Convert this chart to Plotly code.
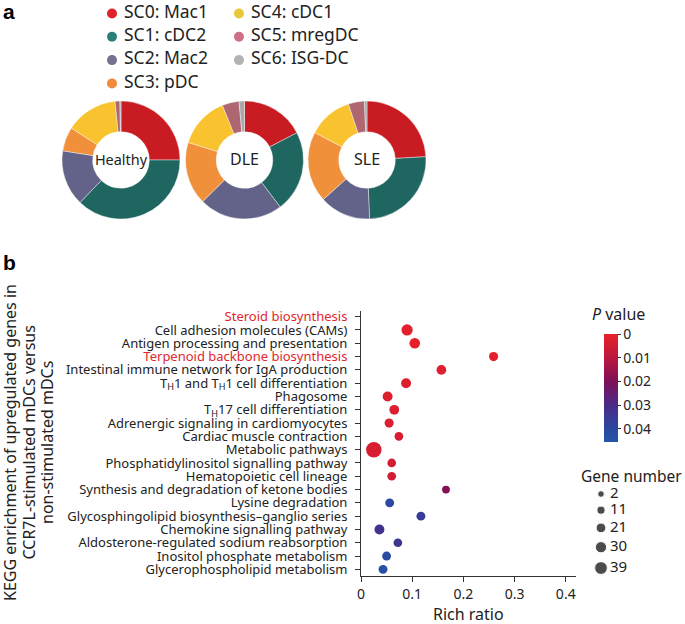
import plotly.graph_objects as go

W, H = 685, 624
FONT = "Noto Sans"
TXT = "#222222"
AX = "#333333"

# ---------------- Panel a data ----------------
clusters = ["SC0: Mac1", "SC1: cDC2", "SC2: Mac2", "SC3: pDC",
            "SC4: cDC1", "SC5: mregDC", "SC6: ISG-DC"]
conditions = ["Healthy", "DLE", "SLE"]
healthy_pct = [25.0, 37.2, 15.3, 6.6, 14.3, 1.3, 0.3]
dle_pct = [17.4, 22.3, 22.9, 17.3, 14.1, 4.6, 1.5]
sle_pct = [24.1, 25.2, 14.0, 19.4, 12.2, 4.4, 0.7]

# ---------------- Panel b data ----------------
pathways = [
    "Steroid biosynthesis",
    "Cell adhesion molecules (CAMs)",
    "Antigen processing and presentation",
    "Terpenoid backbone biosynthesis",
    "Intestinal immune network for IgA production",
    "T<sub>H</sub>1 and T<sub>H</sub>1 cell differentiation",
    "Phagosome",
    "T<sub>H</sub>17 cell differentiation",
    "Adrenergic signaling in cardiomyocytes",
    "Cardiac muscle contraction",
    "Metabolic pathways",
    "Phosphatidylinositol signalling pathway",
    "Hematopoietic cell lineage",
    "Synthesis and degradation of ketone bodies",
    "Lysine degradation",
    "Glycosphingolipid biosynthesis\u2013ganglio series",
    "Chemokine signalling pathway",
    "Aldosterone-regulated sodium reabsorption",
    "Inositol phosphate metabolism",
    "Glycerophospholipid metabolism",
]
rich_ratio = [0.422, 0.090, 0.105, 0.259, 0.157, 0.088, 0.052, 0.065, 0.055, 0.074,
              0.025, 0.060, 0.060, 0.166, 0.056, 0.117, 0.036, 0.072, 0.050, 0.043]
gene_number = [10, 19, 16, 9, 12, 13, 13, 12, 9, 7,
               39, 7, 7, 3, 8, 8, 13, 7, 8, 8]
p_value = [0.0005, 0.0008, 0.001, 0.001, 0.002, 0.002, 0.003, 0.003, 0.003, 0.004,
           0.004, 0.005, 0.005, 0.019, 0.040, 0.036, 0.032, 0.034, 0.041, 0.043]
highlighted = ["Steroid biosynthesis", "Terpenoid backbone biosynthesis"]
gene_legend = [2, 11, 21, 30, 39]
pvalue_ticks = [0, 0.01, 0.02, 0.03, 0.04]
x_ticks = [0, 0.1, 0.2, 0.3, 0.4]
y_title_lines = ["KEGG enrichment of upregulated genes in",
                 "CCR7L-stimulated mDCs versus",
                 "non-stimulated mDCs"]

# ---------------- styles ----------------
pie_colors = ["#c81b22", "#1f6660", "#63638a", "#f0903b", "#f8c32f", "#ae6670", "#a9a9a9"]
legend_colors = ["#e0222b", "#2a8078", "#75718f", "#f08a3c", "#e6c83a", "#cf6f86", "#b2b2b2"]
HIGHLIGHT = "#e2262d"
P_MAX = 0.0455
colorscale = [[0.0, "#2456a8"], [0.12, "#2c48a0"], [0.34, "#4a2b88"],
              [0.56, "#7d0f58"], [0.78, "#bb183f"], [1.0, "#e8212a"]]


def px_x(p):
    return p / W


def px_y(p):
    return 1 - p / H


def data_size(g):
    return 7.2 + 0.213 * g


def legend_size(g):
    return 6.3 + 0.165 * g


fig = go.Figure()

# ---------------- donuts ----------------
pie_cx = [121, 244.5, 367]
pie_cy = 160
pie_r = 59
for cond, vals, cx in zip(conditions, [healthy_pct, dle_pct, sle_pct], pie_cx):
    fig.add_trace(go.Pie(
        values=vals, labels=clusters, hole=0.48, sort=False,
        direction="clockwise", rotation=0,
        marker=dict(colors=pie_colors, line=dict(color="white", width=0.4)),
        textinfo="none", showlegend=False,
        domain=dict(x=[px_x(cx - pie_r), px_x(cx + pie_r)],
                    y=[px_y(pie_cy + pie_r), px_y(pie_cy - pie_r)]),
        title=dict(text=cond, font=dict(size=16, color=TXT, family=FONT),
                   position="middle center"),
    ))

# ---------------- overlay axes (pixel space) for legends ----------------
LEG_X0, LEG_DX, LEG_Y0, LEG_DY, LEG_TX = 112, 127, 13.5, 23.3, 12
leg_x = [LEG_X0 + (i // 4) * LEG_DX for i in range(len(clusters))]
leg_y = [LEG_Y0 + (i % 4) * LEG_DY for i in range(len(clusters))]
fig.add_trace(go.Scatter(
    x=leg_x, y=leg_y, mode="markers",
    marker=dict(size=10, color=legend_colors),
    xaxis="x3", yaxis="y3", showlegend=False, hoverinfo="skip", cliponaxis=False,
))
fig.add_trace(go.Scatter(
    x=[v + LEG_TX for v in leg_x], y=leg_y, mode="text", text=clusters,
    textposition="middle right",
    textfont=dict(size=17.5, color=TXT, family=FONT),
    xaxis="x3", yaxis="y3", showlegend=False, hoverinfo="skip", cliponaxis=False,
))

# gene-number legend positions from sizes
GX, GY0, GGAP = 601, 494, 8.8
gy = []
prev = None
for g in gene_legend:
    d = legend_size(g)
    if prev is None:
        gy.append(GY0)
    else:
        gy.append(gy[-1] + prev / 2 + d / 2 + GGAP)
    prev = d
fig.add_trace(go.Scatter(
    x=[GX] * len(gene_legend), y=gy, mode="markers",
    marker=dict(size=[legend_size(g) for g in gene_legend], color="black"),
    xaxis="x3", yaxis="y3", showlegend=False, hoverinfo="skip", cliponaxis=False,
))
fig.add_trace(go.Scatter(
    x=[GX + 9] * len(gene_legend), y=gy, mode="text",
    text=[str(g) for g in gene_legend], textposition="middle right",
    textfont=dict(size=15, color=TXT, family=FONT),
    xaxis="x3", yaxis="y3", showlegend=False, hoverinfo="skip", cliponaxis=False,
))

# ---------------- bubble chart ----------------
n = len(pathways)
ypos = [n - 1 - i for i in range(n)]
ticktext = [
    f'<span style="color:{HIGHLIGHT}">{p}</span>' if p in highlighted else p
    for p in pathways
]
fig.add_trace(go.Scatter(
    x=rich_ratio, y=ypos, mode="markers",
    marker=dict(
        size=[data_size(g) for g in gene_number],
        color=[-p for p in p_value], cmin=-P_MAX, cmax=0,
        colorscale=colorscale, line=dict(width=0), opacity=1,
        colorbar=dict(
            thickness=14, thicknessmode="pixels", len=108, lenmode="pixels",
            x=px_x(604), xanchor="left", y=px_y(442), yanchor="bottom",
            xpad=0, ypad=0, outlinewidth=0,
            tickvals=[-v for v in pvalue_ticks],
            ticktext=[f"{v:g}" for v in pvalue_ticks],
            ticks="outside", ticklen=3, tickcolor=AX,
            tickfont=dict(size=14, color=TXT, family=FONT),
        ),
    ),
    xaxis="x", yaxis="y", showlegend=False, cliponaxis=False,
))

annotations = [
    dict(text="<b>a</b>", x=px_x(1), y=px_y(-2), xref="paper", yref="paper",
         xanchor="left", yanchor="top", showarrow=False,
         font=dict(size=21, family="Liberation Sans", color="black")),
    dict(text="<b>b</b>", x=px_x(1), y=px_y(249), xref="paper", yref="paper",
         xanchor="left", yanchor="top", showarrow=False,
         font=dict(size=21, family="Liberation Sans", color="black")),
    dict(text="Rich ratio", x=px_x(468.5), y=px_y(614), xref="paper", yref="paper",
         xanchor="center", yanchor="middle", showarrow=False,
         font=dict(size=16, color=TXT, family=FONT)),
    dict(text="<i>P</i> value", x=px_x(590), y=px_y(314), xref="paper", yref="paper",
         xanchor="left", yanchor="middle", showarrow=False,
         font=dict(size=16, color=TXT, family=FONT)),
    dict(text="Gene number", x=px_x(579), y=px_y(476), xref="paper", yref="paper",
         xanchor="left", yanchor="middle", showarrow=False,
         font=dict(size=15.5, color=TXT, family=FONT)),
]
for k, line in enumerate(y_title_lines):
    annotations.append(dict(
        text=line, x=px_x(10 + 18.5 * k), y=px_y(443), xref="paper", yref="paper",
        xanchor="center", yanchor="middle", textangle=-90, showarrow=False,
        font=dict(size=16, color=TXT, family=FONT)))

fig.update_layout(
    width=W, height=H,
    margin=dict(l=0, r=0, t=0, b=0),
    paper_bgcolor="white", plot_bgcolor="rgba(0,0,0,0)",
    font=dict(family=FONT, color=TXT),
    showlegend=False,
    xaxis=dict(
        domain=[px_x(361), px_x(576)], range=[0, 0.42], anchor="y",
        tickvals=x_ticks, ticktext=[f"{v:g}" for v in x_ticks],
        ticks="outside", ticklen=5, tickcolor=AX, showline=True, linecolor=AX,
        linewidth=1, showgrid=False, zeroline=False, automargin=False,
        tickfont=dict(size=14, color=TXT, family=FONT), ticklabelstandoff=0,
    ),
    yaxis=dict(
        domain=[px_y(576), px_y(310.7)], range=[-0.5, 19.45], anchor="x",
        tickvals=ypos, ticktext=ticktext,
        ticks="outside", ticklen=5, tickcolor=AX, showline=True, linecolor=AX,
        linewidth=1, showgrid=False, zeroline=False, automargin=False,
        tickfont=dict(size=13, color=TXT, family=FONT), ticklabelstandoff=5,
    ),
    xaxis3=dict(domain=[0, 1], range=[0, W], visible=False, anchor="y3", fixedrange=True),
    yaxis3=dict(domain=[0, 1], range=[H, 0], visible=False, anchor="x3", fixedrange=True),
    annotations=annotations,
)

fig.write_html("out.html", config={"displayModeBar": False},
               post_script="document.body.style.margin='0';")
